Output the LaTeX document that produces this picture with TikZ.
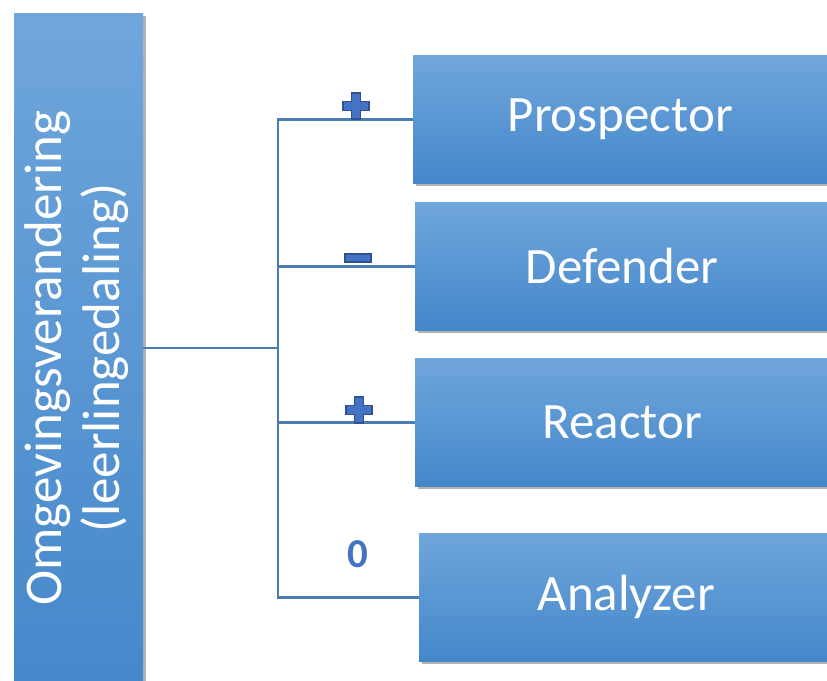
\documentclass[tikz,border=0pt]{standalone}
\usepackage{fontspec}
\setmainfont{Carlito}
\usetikzlibrary{shadows}
\definecolor{boxtop}{HTML}{6FA6DC}
\definecolor{boxbot}{HTML}{4487CA}
\definecolor{linkblue}{HTML}{4A7EB3}
\definecolor{signfill}{HTML}{4472C4}
\definecolor{signedge}{HTML}{2F528F}
\begin{document}
\begin{tikzpicture}[x=1pt,y=-1pt,
  box/.style={draw=none, top color=boxtop, bottom color=boxbot, inner sep=0pt,
    drop shadow={shadow xshift=3pt, shadow yshift=-3pt, opacity=0.3, fill=black},
    text=white, font=\fontsize{51}{60}\selectfont, anchor=north west},
  stratbox/.style={box, minimum width=414pt, minimum height=128pt},
  link/.style={draw=linkblue, line width=2.6pt},
  signstyle/.style={fill=signfill, draw=signedge, line width=1.2pt},
  plussign/.pic={\path[signstyle] (-4.5,-13) -- (4.5,-13) -- (4.5,-4.5) -- (13,-4.5) -- (13,4.5)
      -- (4.5,4.5) -- (4.5,13) -- (-4.5,13) -- (-4.5,4.5) -- (-13,4.5) -- (-13,-4.5)
      -- (-4.5,-4.5) -- cycle;},
  minussign/.pic={\path[signstyle] (-13,-4) rectangle (13,4);}]
\useasboundingbox (0,0) rectangle (827,680);

% environment box on the left
\node[box, minimum width=129pt, minimum height=690pt] (omg) at (14,13)
  {\rotatebox{90}{\fontsize{53}{58}\selectfont\begin{tabular}{@{}c@{}}Omgevingsverandering\\(leerlingedaling)\end{tabular}}};

% strategy boxes
\node[stratbox] (pro) at (413,55)  {Prospector};
\node[stratbox] (def) at (415,202) {Defender};
\node[stratbox] (rea) at (415,358) {Reactor};
\node[stratbox] (ana) at (419,533) {Analyzer};

% connectors
\coordinate (j) at (278,348);
\draw[link] (omg.east |- j) -- (j);
\draw[link] (pro.west) -| (j |- ana.west) -- (ana.west);
\draw[link] (def.west) -- (j |- def.west);
\draw[link] (rea.west) -- (j |- rea.west);

% relation signs
\pic at (356,106) {plussign};
\pic at (358,258) {minussign};
\pic at (359,410) {plussign};
\node[text=signfill, font=\fontsize{41}{41}\selectfont\bfseries] (zero) at (358,554) {0};
\end{tikzpicture}
\end{document}
